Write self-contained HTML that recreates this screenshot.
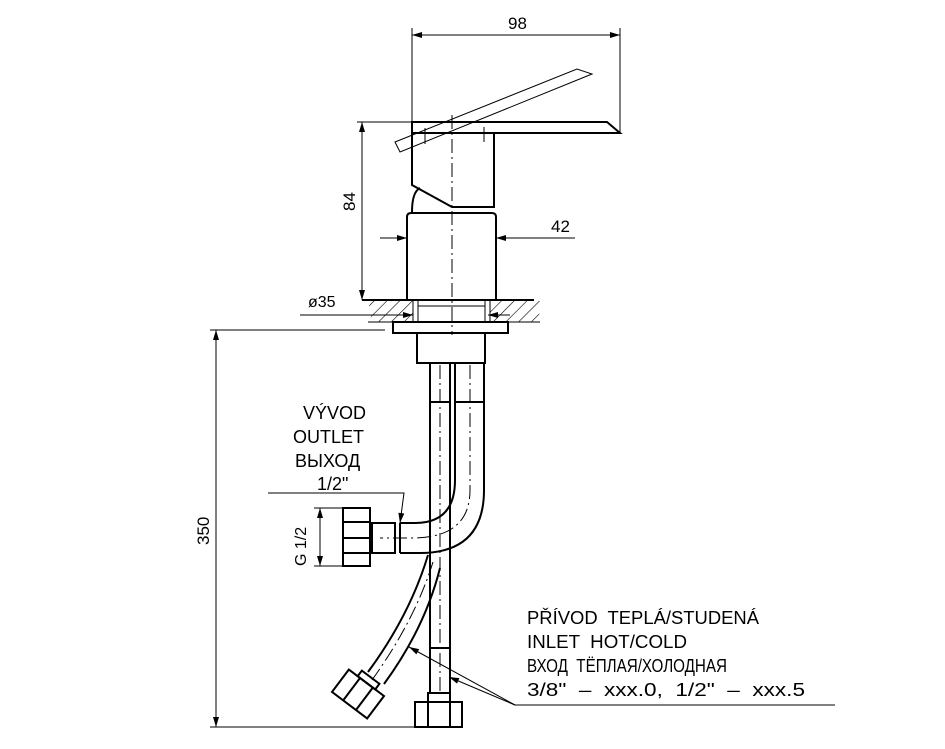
<!DOCTYPE html>
<html><head><meta charset="utf-8"><style>
html,body{margin:0;padding:0;background:#fff}
svg{display:block}
text{font-family:"Liberation Sans","DejaVu Sans",sans-serif;fill:#000;white-space:pre}
</style></head><body>
<svg width="945" height="749" viewBox="0 0 945 749" xmlns="http://www.w3.org/2000/svg">
<defs>
<pattern id="h" width="9" height="9" patternUnits="userSpaceOnUse" patternTransform="rotate(45)">
<line x1="0" y1="0" x2="0" y2="9" stroke="#000" stroke-width="1.2"/>
</pattern>
<marker id="a" viewBox="0 0 10 6" refX="10" refY="3" markerWidth="11" markerHeight="6" orient="auto-start-reverse" markerUnits="userSpaceOnUse"><path d="M0,0 L10,3 L0,6z" fill="#000"/></marker>
</defs>
<g fill="none" stroke="#000" stroke-width="1">
<line x1="412" y1="28" x2="412" y2="122"/>
<line x1="620" y1="28" x2="620" y2="133"/>
<line x1="412" y1="35" x2="620" y2="35" marker-start="url(#a)" marker-end="url(#a)"/>
<line x1="357" y1="122" x2="412" y2="122"/>
<line x1="362" y1="122" x2="362" y2="300" marker-start="url(#a)" marker-end="url(#a)"/>
<line x1="380" y1="238" x2="407" y2="238" marker-end="url(#a)"/>
<line x1="575" y1="238" x2="496" y2="238" marker-end="url(#a)"/>
<polygon points="395,142 577,69 592,74 400,152"/>
<line x1="425" y1="128" x2="425" y2="144"/>
<line x1="484" y1="127" x2="484" y2="142"/>
</g>
<g fill="none" stroke="#000" stroke-width="2">
<polyline points="412,133 412,122 607,122 620,133 412,133"/>
<polyline points="412,133 412,185 452,207 494,207 494,133"/>
<path d="M412,212 Q412,192 420,188"/>
<path d="M407,300 L407,217 Q407,213 411,213 L492,213 Q496,213 496,217 L496,300"/>
<line x1="362" y1="300" x2="534" y2="300"/>
<rect x="393" y="322" width="115" height="11"/>
<rect x="417" y="333" width="68" height="30"/>
</g>
<path d="M367,301 L413,301 L413,322 L370,322 L372,312z" fill="url(#h)" stroke="none"/>
<path d="M490,301 L540,301 L540,310 L538,322 L490,322z" fill="url(#h)" stroke="none"/>
<g fill="none" stroke="#000" stroke-width="1">
<line x1="368" y1="322" x2="540" y2="322"/>
<line x1="413" y1="300" x2="413" y2="322"/><line x1="490" y1="300" x2="490" y2="322"/>
<line x1="418" y1="300" x2="418" y2="322"/><line x1="485" y1="300" x2="485" y2="322"/>
<line x1="418" y1="306" x2="485" y2="306"/>
<line x1="300" y1="315" x2="413" y2="315" marker-end="url(#a)"/>
<line x1="510" y1="315" x2="488" y2="315" marker-end="url(#a)"/>
<line x1="300" y1="330" x2="385" y2="330"/>
<line x1="452" y1="115" x2="452" y2="335" stroke-dasharray="14,4,2,4"/>
<line x1="210" y1="330" x2="300" y2="330"/>
<line x1="210" y1="727" x2="415" y2="727"/>
<line x1="216" y1="330" x2="216" y2="727" marker-start="url(#a)" marker-end="url(#a)"/>
<line x1="314" y1="508" x2="343" y2="508"/>
<line x1="314" y1="566" x2="343" y2="566"/>
<line x1="320" y1="508" x2="320" y2="566" marker-start="url(#a)" marker-end="url(#a)"/>
<polyline points="268,493 404,493 400,523" marker-end="url(#a)"/>
<line x1="515" y1="705" x2="835" y2="705"/>
<line x1="515" y1="705" x2="409" y2="647" marker-end="url(#a)"/>
<line x1="515" y1="705" x2="449" y2="677" marker-end="url(#a)"/>
<line x1="440" y1="365" x2="440" y2="695" stroke-dasharray="14,4,2,4"/>
<path d="M470,365 L470,490 Q470,538 412,538 L380,538" stroke-dasharray="14,4,2,4"/>
<path d="M433,562 Q415,620 372,680" stroke-dasharray="14,4,2,4"/>
</g>
<g fill="none" stroke="#000" stroke-width="2">
<line x1="430" y1="363" x2="430" y2="693"/>
<line x1="450" y1="363" x2="450" y2="693"/>
<line x1="430" y1="402" x2="450" y2="402"/>
<line x1="430" y1="648" x2="450" y2="648"/>
<rect x="428" y="693" width="22" height="9"/>
<rect x="415" y="702" width="47" height="25"/>
<line x1="428" y1="702" x2="428" y2="727"/><line x1="450" y1="702" x2="450" y2="727"/>
<path d="M455,363 L455,480 Q455,523 415,523 L400,523"/>
<path d="M484,363 L484,490 Q484,553 420,553 L400,553"/>
<line x1="455" y1="402" x2="484" y2="402"/>
<line x1="400" y1="523" x2="400" y2="553"/>
<rect x="372" y="523" width="23" height="30"/>
<rect x="343" y="508" width="27" height="58"/>
<line x1="343" y1="522" x2="370" y2="522"/>
<line x1="343" y1="538" x2="370" y2="538"/>
<line x1="343" y1="553" x2="370" y2="553"/>
<path d="M428,555 Q410,615 368,672"/>
<path d="M440,568 Q425,628 384,684"/>
<g transform="translate(358,694) rotate(37)">
<rect x="-22" y="-14" width="44" height="28"/>
<line x1="-8" y1="-14" x2="-8" y2="14"/>
<line x1="8" y1="-14" x2="8" y2="14"/>
<rect x="-11" y="-21" width="22" height="7"/>
</g>
</g>
<text x="508" y="29" font-size="17">98</text>
<text x="551" y="232" font-size="17">42</text>
<text transform="translate(355,211) rotate(-90)" font-size="17">84</text>
<text x="308" y="307" font-size="16">ø35</text>
<text transform="translate(209,545) rotate(-90)" font-size="17">350</text>
<text transform="translate(306,566) rotate(-90)" font-size="16">G 1/2</text>
<g font-size="18">
<text x="303" y="419">VÝVOD</text>
<text x="293" y="443">OUTLET</text>
<text x="295" y="467">ВЫХОД</text>
<text x="317" y="490">1/2"</text>
<text x="527" y="624" textLength="232" lengthAdjust="spacingAndGlyphs">PŘÍVOD  TEPLÁ/STUDENÁ</text>
<text x="527" y="648" textLength="160" lengthAdjust="spacingAndGlyphs">INLET  HOT/COLD</text>
<text x="527" y="672" textLength="200" lengthAdjust="spacingAndGlyphs">ВХОД  ТЁПЛАЯ/ХОЛОДНАЯ</text>
<text x="527" y="696" textLength="278" lengthAdjust="spacingAndGlyphs">3/8"  –  xxx.0,  1/2"  –  xxx.5</text>
</g>
</svg>
</body></html>
